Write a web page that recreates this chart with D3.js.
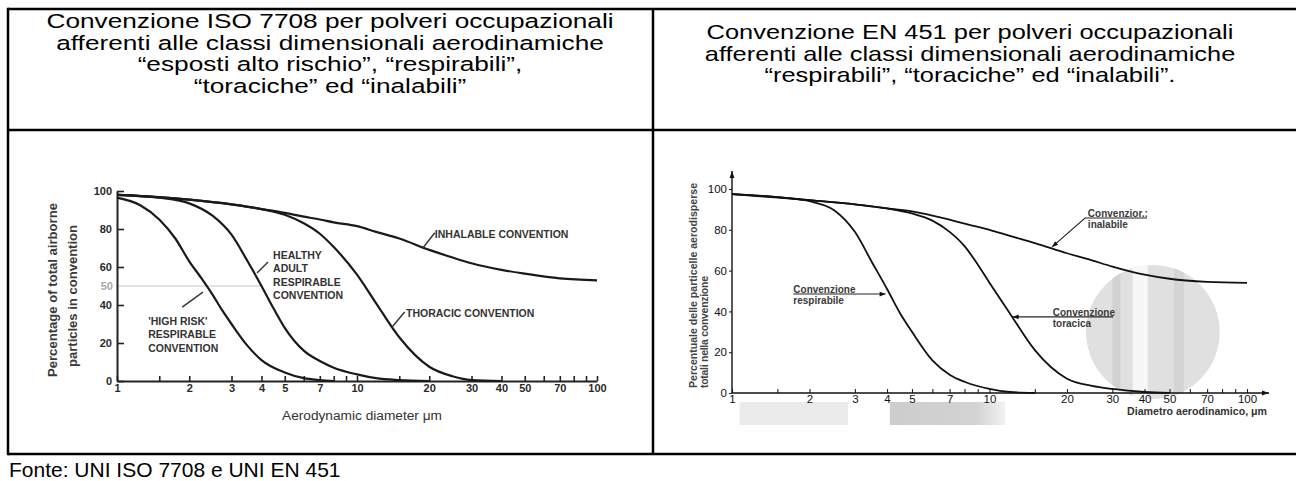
<!DOCTYPE html>
<html lang="it">
<head>
<meta charset="utf-8">
<title>Convenzioni ISO 7708 / EN 451</title>
<script src="https://cdn.jsdelivr.net/npm/d3@7/dist/d3.min.js"></script>
<style>
  body { margin: 0; background: #fff; }
  svg { display: block; font-family: "Liberation Sans", Arial, sans-serif; }
</style>
</head>
<body>
<script>

//Tick values shared by both log axes
var xTickMarks = [1, 1.5, 2, 3, 4, 5, 6, 7, 8, 9, 10, 15, 20, 30, 40, 50, 60, 70, 80, 90, 100];
var xTickLabels = [1, 2, 3, 4, 5, 7, 10, 20, 30, 40, 50, 70, 100];
var yTicks = [0, 20, 40, 60, 80, 100];
var isoRefLevel = 50;

//ISO 7708 curves (diameter um, percent)
var isoHighRiskD = [1, 1.25, 1.5, 1.75, 2, 2.25, 2.5, 2.75, 3, 3.5, 4, 5, 6, 7, 8];
var isoHighRiskV = [96.5, 92.5, 85, 75, 63, 54, 45.5, 37, 30, 18.5, 11, 4.5, 1.5, 0.5, 0];
var isoHealthyD = [1, 1.5, 2, 2.5, 3, 3.5, 4, 4.5, 5, 6, 7, 8, 10, 12, 15, 20];
var isoHealthyV = [98, 96.5, 93.5, 87, 77, 63, 50, 38, 28, 16, 10.5, 7, 3.5, 1.5, 0.5, 0];
var isoThoracicD = [1, 2, 3, 4, 5, 6, 7, 8, 10, 12, 15, 20, 25, 30, 40];
var isoThoracicV = [98, 95.5, 93, 90.5, 87.5, 83, 77.5, 70.5, 56, 41, 23, 7.5, 2.5, 0.5, 0];
var isoInhalD = [1, 1.5, 2, 3, 4, 5, 6, 7, 8, 10, 12, 15, 20, 25, 30, 40, 50, 70, 100];
var isoInhalV = [98, 96.8, 95.5, 93, 90.5, 88.5, 86.5, 85, 83.5, 81.5, 78.5, 75, 69, 65, 62, 58.5, 56.5, 54, 53];

//EN 451 curves (diameter um, percent)
var enInhalD = [1, 1.5, 2, 3, 4, 5, 6, 7, 8, 10, 12, 15, 20, 25, 30, 40, 50, 70, 100];
var enInhalV = [97.5, 96, 94.5, 92.5, 90.5, 89, 87, 85, 83, 80, 77, 73.5, 68.5, 65, 62, 58, 56, 54.5, 54];
var enThoracicD = [1, 2, 3, 4, 5, 6, 7, 8, 9, 10, 12, 15, 20, 25, 30, 40, 50];
var enThoracicV = [97.5, 94.5, 92.5, 90.5, 88, 84.5, 79, 72, 63, 54, 39, 21, 7, 3.5, 2, 0.5, 0];
var enRespD = [1, 1.5, 2, 2.5, 3, 3.5, 4, 4.5, 5, 6, 7, 8, 10, 12, 15];
var enRespV = [97.5, 96, 94, 89.5, 79, 64, 51, 39, 30, 16, 9, 5.5, 2, 0.5, 0];

//Texts
var headLeft = ["Convenzione ISO 7708 per polveri occupazionali",
	"afferenti alle classi dimensionali aerodinamiche",
	"\u201cesposti alto rischio\u201d, \u201crespirabili\u201d,",
	"\u201ctoraciche\u201d ed \u201cinalabili\u201d"];
var headRight = ["Convenzione EN 451 per polveri occupazionali",
	"afferenti alle classi dimensionali aerodinamiche",
	"\u201crespirabili\u201d, \u201ctoraciche\u201d ed \u201cinalabili\u201d."];
var sourceText = "Fonte: UNI ISO 7708 e UNI EN 451";

var w = 1296;
var h = 481;

var svg = d3.select("body")
	.append("svg")
	.attr("width", w)
	.attr("height", h);

svg.append("rect").attr("width", w).attr("height", h).attr("fill", "#fff");

var defs = svg.append("defs");
defs.append("marker")
	.attr("id", "arr")
	.attr("viewBox", "0 0 10 10")
	.attr("refX", 10).attr("refY", 5)
	.attr("markerUnits", "userSpaceOnUse")
	.attr("markerWidth", 7).attr("markerHeight", 6)
	.attr("orient", "auto")
	.append("path").attr("d", "M0,1 L10,5 L0,9 Z").attr("fill", "#111");
defs.append("marker")
	.attr("id", "axarr")
	.attr("viewBox", "0 0 10 10")
	.attr("refX", 10).attr("refY", 5)
	.attr("markerUnits", "userSpaceOnUse")
	.attr("markerWidth", 9).attr("markerHeight", 7)
	.attr("orient", "auto")
	.append("path").attr("d", "M0,1.5 L10,5 L0,8.5 Z").attr("fill", "#111");

function zip(ds, vs) {
	return ds.map(function(d, i) { return [d, vs[i]]; });
}

//---------------- Table ----------------
var table = svg.append("g").attr("stroke", "#000").attr("stroke-width", 2.5);
var tLeft = 8, tMid = 653, tTop = 9, tHead = 130, tBottom = 454;
table.append("line").attr("x1", tLeft).attr("x2", w).attr("y1", tTop).attr("y2", tTop);
table.append("line").attr("x1", tLeft).attr("x2", w).attr("y1", tHead).attr("y2", tHead);
table.append("line").attr("x1", tLeft).attr("x2", w).attr("y1", tBottom).attr("y2", tBottom);
table.append("line").attr("x1", tLeft).attr("x2", tLeft).attr("y1", tTop - 1.25).attr("y2", tBottom + 1.25);
table.append("line").attr("x1", tMid).attr("x2", tMid).attr("y1", tTop).attr("y2", tBottom);

//header text is wider than plain Arial in the original, so stretch it horizontally
var headStretch = 1.28;
svg.append("g").selectAll("text")
	.data(headLeft)
	.enter()
	.append("text")
	.attr("transform", function(d, i) {
		return "translate(330," + (28 + i * 21.5) + ") scale(" + headStretch + ",1)";
	})
	.attr("text-anchor", "middle")
	.attr("font-size", 20.5)
	.attr("fill", "#000")
	.text(function(d) { return d; });

svg.append("g").selectAll("text")
	.data(headRight)
	.enter()
	.append("text")
	.attr("transform", function(d, i) {
		return "translate(970," + (39 + i * 21.5) + ") scale(" + (headStretch - 0.04) + ",1)";
	})
	.attr("text-anchor", "middle")
	.attr("font-size", 20.5)
	.attr("fill", "#000")
	.text(function(d) { return d; });

svg.append("text")
	.attr("x", 9)
	.attr("y", 477)
	.attr("font-size", 21)
	.attr("fill", "#000")
	.text(sourceText);

//---------------- Left chart: ISO 7708 ----------------
var xL = d3.scaleLog().domain([1, 100]).range([117, 597]);
var yL = d3.scaleLinear().domain([0, 100]).range([381, 191]);
var gL = svg.append("g").attr("fill", "#2a2a2a");

//reference 50% line
gL.append("line")
	.attr("x1", xL(1)).attr("x2", xL(4))
	.attr("y1", yL(isoRefLevel)).attr("y2", yL(isoRefLevel))
	.attr("stroke", "#c4c4c4").attr("stroke-width", 1);
gL.append("text")
	.attr("x", xL(1) - 4).attr("y", yL(isoRefLevel) + 4)
	.attr("text-anchor", "end")
	.attr("font-size", 11).attr("font-weight", "bold")
	.attr("fill", "#a8a8a8")
	.text(isoRefLevel);

var xAxisL = d3.axisBottom(xL)
	.tickValues(xTickMarks)
	.tickFormat(function(d) { return xTickLabels.indexOf(d) >= 0 ? d : ""; })
	.tickSizeInner(-5).tickSizeOuter(0).tickPadding(3);
var yAxisL = d3.axisLeft(yL)
	.tickValues(yTicks)
	.tickSizeInner(-7).tickSizeOuter(0).tickPadding(5);

var axL = gL.append("g").attr("transform", "translate(0," + yL(0) + ")").call(xAxisL);
var ayL = gL.append("g").attr("transform", "translate(" + xL(1) + ",0)").call(yAxisL);
[axL, ayL].forEach(function(a) {
	a.select(".domain").attr("stroke", "#222").attr("stroke-width", 2);
	a.selectAll(".tick line").attr("stroke", "#222").attr("stroke-width", 1.6);
	a.selectAll(".tick text").attr("font-family", "Liberation Sans, Arial, sans-serif")
		.attr("font-size", 11).attr("font-weight", "bold").attr("fill", "#2a2a2a");
});

var lineL = d3.line()
	.x(function(d) { return xL(d[0]); })
	.y(function(d) { return yL(d[1]); })
	.curve(d3.curveMonotoneX);

[[isoInhalD, isoInhalV], [isoThoracicD, isoThoracicV], [isoHealthyD, isoHealthyV], [isoHighRiskD, isoHighRiskV]]
	.forEach(function(s) {
		gL.append("path")
			.attr("d", lineL(zip(s[0], s[1])))
			.attr("fill", "none")
			.attr("stroke", "#1a1a1a")
			.attr("stroke-width", 2.2);
	});

//curve labels (anchored in data units)
var isoNotes = [
	{ lines: ["INHALABLE CONVENTION"], at: [21.1, 77.4], from: [21.1, 78], to: [18.8, 70] },
	{ lines: ["THORACIC CONVENTION"], at: [16.0, 35.8], from: [15.8, 36.3], to: [14.0, 28.4] },
	{ lines: ["HEALTHY", "ADULT", "RESPIRABLE", "CONVENTION"], at: [4.47, 66.3], from: [4.26, 62.6], to: [3.83, 56.8] },
	{ lines: ["'HIGH RISK'", "RESPIRABLE", "CONVENTION"], at: [1.35, 31.6], from: [2.28, 46.8], to: [1.87, 38.9] }
];
isoNotes.forEach(function(n) {
	n.lines.forEach(function(t, i) {
		gL.append("text")
			.attr("x", xL(n.at[0]))
			.attr("y", yL(n.at[1]) + 4 + i * 13.4)
			.attr("font-size", 10.5)
			.attr("font-weight", "bold")
			.attr("fill", "#333")
			.text(t);
	});
	gL.append("line")
		.attr("x1", xL(n.from[0])).attr("y1", yL(n.from[1]))
		.attr("x2", xL(n.to[0])).attr("y2", yL(n.to[1]))
		.attr("stroke", "#333").attr("stroke-width", 1.4);
});

gL.append("text")
	.attr("transform", "translate(57,290) rotate(-90)")
	.attr("text-anchor", "middle")
	.attr("font-size", 12).attr("font-weight", "bold").attr("fill", "#3a3a3a")
	.attr("textLength", 174).attr("lengthAdjust", "spacingAndGlyphs")
	.text("Percentage of total airborne");
gL.append("text")
	.attr("transform", "translate(77,296) rotate(-90)")
	.attr("text-anchor", "middle")
	.attr("font-size", 12).attr("font-weight", "bold").attr("fill", "#3a3a3a")
	.attr("textLength", 142).attr("lengthAdjust", "spacingAndGlyphs")
	.text("particles in convention");
gL.append("text")
	.attr("x", 362).attr("y", 420)
	.attr("text-anchor", "middle")
	.attr("font-size", 12).attr("fill", "#333")
	.attr("textLength", 160).attr("lengthAdjust", "spacingAndGlyphs")
	.text("Aerodynamic diameter \u03bcm");

//---------------- Right chart: EN 451 ----------------
var xR = d3.scaleLog().domain([1, 100]).range([732, 1247]);
var yR = d3.scaleLinear().domain([0, 100]).range([393, 189]);
var gR = svg.append("g").attr("fill", "#222");

//scan shading of the original page
gR.append("rect")
	.attr("x", xR(1.07)).attr("y", yR(-4.4))
	.attr("width", xR(2.82) - xR(1.07)).attr("height", yR(-15.7) - yR(-4.4))
	.attr("fill", "#ebebeb");
var shade = defs.append("linearGradient").attr("id", "shade");
shade.append("stop").attr("offset", "0").attr("stop-color", "#cdcdcd");
shade.append("stop").attr("offset", "0.75").attr("stop-color", "#d3d3d3");
shade.append("stop").attr("offset", "1").attr("stop-color", "#f2f2f2");
gR.append("rect")
	.attr("x", xR(4.1)).attr("y", yR(-4.4))
	.attr("width", xR(11.5) - xR(4.1)).attr("height", yR(-15.7) - yR(-4.4))
	.attr("fill", "url(#shade)");
defs.append("clipPath").attr("id", "spot")
	.append("circle").attr("cx", xR(43.1)).attr("cy", yR(29.9)).attr("r", 67);
var spot = gR.append("g").attr("clip-path", "url(#spot)");
spot.append("circle").attr("cx", xR(43.1)).attr("cy", yR(29.9)).attr("r", 67).attr("fill", "#e0e0e0");
spot.append("rect").attr("x", xR(30)).attr("y", yR(70)).attr("width", 8).attr("height", 150).attr("fill", "#d2d2d2");
spot.append("rect").attr("x", xR(36)).attr("y", yR(70)).attr("width", 15).attr("height", 150).attr("fill", "#f7f7f7");
spot.append("rect").attr("x", xR(52)).attr("y", yR(70)).attr("width", 10).attr("height", 150).attr("fill", "#d4d4d4");

var xAxisR = d3.axisBottom(xR)
	.tickValues(xTickMarks)
	.tickFormat(function(d) { return xTickLabels.indexOf(d) >= 0 ? d : ""; })
	.tickSizeInner(-4).tickSizeOuter(0).tickPadding(2);
var yAxisR = d3.axisLeft(yR)
	.tickValues(yTicks)
	.tickSizeInner(3).tickSizeOuter(0).tickPadding(2);

var axR = gR.append("g").attr("transform", "translate(0," + yR(0) + ")").call(xAxisR);
var ayR = gR.append("g").attr("transform", "translate(" + xR(1) + ",0)").call(yAxisR);
[axR, ayR].forEach(function(a) {
	a.select(".domain").remove();
	a.selectAll(".tick line").attr("stroke", "#222").attr("stroke-width", 1.1);
	a.selectAll(".tick text").attr("font-family", "Liberation Sans, Arial, sans-serif")
		.attr("font-size", 11.5).attr("fill", "#111");
});
gR.append("line")
	.attr("x1", xR(1)).attr("y1", yR(0)).attr("x2", xR(1)).attr("y2", yR(100) - 18)
	.attr("stroke", "#111").attr("stroke-width", 1.4).attr("marker-end", "url(#axarr)");
gR.append("line")
	.attr("x1", xR(1)).attr("y1", yR(0)).attr("x2", xR(100) + 22).attr("y2", yR(0))
	.attr("stroke", "#111").attr("stroke-width", 1.4).attr("marker-end", "url(#axarr)");

var lineR = d3.line()
	.x(function(d) { return xR(d[0]); })
	.y(function(d) { return yR(d[1]); })
	.curve(d3.curveMonotoneX);

[[enInhalD, enInhalV], [enThoracicD, enThoracicV], [enRespD, enRespV]]
	.forEach(function(s) {
		gR.append("path")
			.attr("d", lineR(zip(s[0], s[1])))
			.attr("fill", "none")
			.attr("stroke", "#111")
			.attr("stroke-width", 1.8);
	});

var enNotes = [
	{ lines: ["Convenzione", "respirabile"], at: [1.73, 50.5], path: [[1.73, 48.5], [3.95, 48.5]] },
	{ lines: ["Convenzione", "toracica"], at: [17.6, 39.7], path: [[30.2, 37.3], [12.3, 37.3]] },
	{ lines: ["Convenzior.:", "inalabile"], at: [24.1, 88.2], path: [[40.9, 85.8], [23.5, 85.8], [17.5, 71.6]] }
];
enNotes.forEach(function(n) {
	n.lines.forEach(function(t, i) {
		gR.append("text")
			.attr("x", xR(n.at[0]))
			.attr("y", yR(n.at[1]) + 3.5 + i * 11)
			.attr("font-size", 10)
			.attr("font-weight", "bold")
			.attr("fill", "#3a3a3a")
			.text(t);
	});
	gR.append("path")
		.attr("d", d3.line()(n.path.map(function(p) { return [xR(p[0]), yR(p[1])]; })))
		.attr("fill", "none")
		.attr("stroke", "#222").attr("stroke-width", 1.1)
		.attr("marker-end", "url(#arr)");
});

gR.append("text")
	.attr("transform", "translate(697,388) rotate(-90)")
	.attr("font-size", 10.5).attr("font-weight", "bold").attr("fill", "#444")
	.attr("textLength", 205).attr("lengthAdjust", "spacing")
	.text("Percentuale delle particelle aerodisperse");
gR.append("text")
	.attr("transform", "translate(708,388) rotate(-90)")
	.attr("font-size", 10.5).attr("font-weight", "bold").attr("fill", "#444")
	.attr("textLength", 112).attr("lengthAdjust", "spacing")
	.text("totali nella convenzione");
gR.append("text")
	.attr("x", 1127).attr("y", 415)
	.attr("font-size", 11).attr("font-weight", "bold").attr("fill", "#333")
	.attr("textLength", 140).attr("lengthAdjust", "spacingAndGlyphs")
	.text("Diametro aerodinamico, \u03bcm");

</script>
</body>
</html>
